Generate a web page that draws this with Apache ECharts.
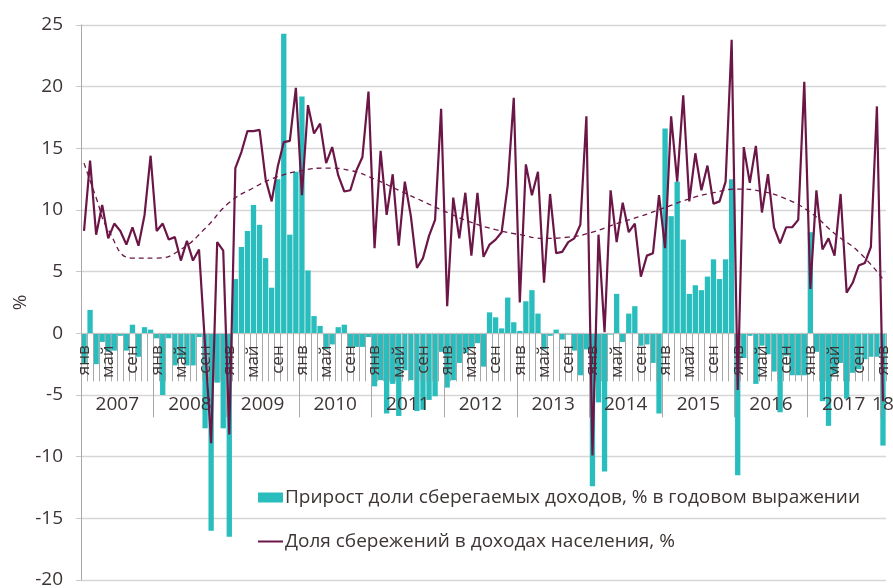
<!DOCTYPE html>
<html><head><meta charset="utf-8">
<script src="https://cdn.jsdelivr.net/npm/echarts@6/dist/echarts.min.js"></script>
<style>html,body{margin:0;padding:0;background:#fff}#c{width:893px;height:588px}</style>
</head><body><div id="c"></div>
<script>
// ---- data ----
const monthNames = ['янв','фев','мар','апр','май','июн','июл','авг','сен','окт','ноя','дек'];
const years = [2007,2008,2009,2010,2011,2012,2013,2014,2015,2016,2017,2018];
const yearLabels = ['2007','2008','2009','2010','2011','2012','2013','2014','2015','2016','2017','18'];
const yearBoundaries = [12,24,36,48,60,72,84,96,108,120,132];
const yearLabelPositions = [6,18,30,42,54,66,78,90,102,114,126,132.5];

const barName = 'Прирост доли сберегаемых доходов, % в годовом выражении';
const lineName = 'Доля сбережений в доходах населения, %';

// growth of share of saved income, % yoy (bars)
const growth = [
  -2.4, 1.9, -2.5, -0.7, -1.5, -1.4, -0.2, -1.4, 0.7, -1.9, 0.5, 0.3,
  -0.4, -5.0, -0.4, -2.6, -2.0, -2.6, -2.6, -0.3, -7.7, -16.0, -4.0, -7.7,
  -16.5, 4.4, 7.0, 8.3, 10.4, 8.8, 6.1, 3.7, 12.5, 24.3, 8.0, 13.1,
  19.2, 5.1, 1.4, 0.6, -1.3, -0.9, 0.5, 0.7, -1.1, -1.1, -1.1, -0.3,
  -4.3, -3.8, -6.5, -4.1, -6.7, -3.0, -3.8, -6.3, -6.2, -5.4, -5.1, -1.5,
  -4.4, -3.8, -2.4, -1.6, -1.2, -0.8, -2.7, 1.7, 1.3, 0.4, 2.9, 0.9,
  0.2, 2.6, 3.5, 1.6, -1.3, -0.2, 0.3, -0.5, -0.1, -1.4, -3.4, -1.3,
  -12.4, -5.6, -11.2, -0.1, 3.2, -0.7, 1.6, 2.2, -1.0, -0.9, -2.4, -6.5,
  16.6, 9.5, 12.3, 7.6, 3.2, 3.9, 3.5, 4.6, 6.0, 4.4, 6.0, 12.5,
  -11.5, -2.0, -0.2, -4.1, -1.0, -1.7, -3.1, -6.4, -1.8, -3.4, -3.4, -3.4,
  8.2, -1.5, -5.5, -7.5, -3.3, -2.4, -5.3, -3.2, -2.9, -2.1, -1.9, -1.9,
  -9.1
];

// share of savings in household income, % (line)
const share = [
  8.3, 14.0, 8.0, 10.4, 7.7, 8.9, 8.3, 7.2, 8.6, 7.1, 9.6, 14.4,
  8.3, 8.9, 7.6, 7.8, 5.9, 7.5, 5.9, 6.8, -1.0, -8.9, 7.4, 6.7,
  -8.2, 13.4, 14.7, 16.4, 16.4, 16.5, 12.5, 10.7, 13.5, 15.5, 15.6, 19.9,
  11.2, 18.5, 16.2, 17.0, 13.8, 15.1, 12.8, 11.5, 11.6, 13.2, 14.3, 19.6,
  6.9, 14.8, 9.6, 12.9, 7.1, 12.3, 9.5, 5.3, 6.1, 7.9, 9.2, 18.2,
  2.2, 11.0, 7.7, 11.4, 6.3, 11.4, 6.2, 7.2, 7.6, 8.2, 12.0, 19.1,
  2.5, 13.7, 11.2, 13.1, 4.1, 11.3, 6.5, 6.6, 7.4, 7.7, 8.8, 17.6,
  -9.9, 8.0, 0.1, 11.6, 7.4, 10.6, 8.2, 8.9, 4.6, 6.3, 6.5, 11.2,
  6.9, 17.6, 12.3, 19.3, 10.7, 14.6, 11.6, 13.6, 10.5, 10.7, 12.3, 23.8,
  -4.6, 15.1, 12.2, 15.2, 9.8, 12.9, 8.6, 7.3, 8.6, 8.6, 9.2, 20.4,
  3.6, 11.6, 6.8, 7.7, 6.3, 11.3, 3.3, 4.1, 5.5, 5.7, 7.0, 18.4,
  -5.5
];

// trend line (dashed), read at selected months (month index from Jan 2007)
const trendMonth = [0,2,4,8,12,16,20,24,28,32,36,40,44,48,52,56,60,64,68,72,76,80,84,88,92,96,100,104,108,112,116,120,124,128,132];
const trendValue = [13.8,11.0,8.4,6.1,6.1,6.8,8.5,10.6,11.8,12.7,13.2,13.4,13.2,12.5,11.6,10.7,9.8,9.0,8.4,8.0,7.7,7.8,8.2,8.9,9.5,10.2,10.9,11.4,11.7,11.5,10.9,9.8,8.1,6.6,4.4];

// ---- build ----
const categories = [];
years.forEach(y => monthNames.forEach(m => { if (categories.length < growth.length) categories.push(m + ' ' + y); }));
const trendData = trendMonth.map((m, i) => [m, trendValue[i]]);

const font = '"Open Sans", "DejaVu Sans", sans-serif';
const txt = '#3d3434';
const tealC = '#2abdbd';
const lineC = '#6b1646';
const axisGrey = '#a8a8a8';

const H = 588, gridTop = 25, gridBottomPx = 580, yMin = -20, yMax = 25;
const zeroPx = gridBottomPx - (0 - yMin) / (yMax - yMin) * (gridBottomPx - gridTop);

const chart = echarts.init(document.getElementById('c'));
chart.setOption({
  animation: false,
  textStyle: {fontFamily: font},
  grid: [
    {left: 81, right: 7, top: gridTop, bottom: H - gridBottomPx, containLabel: false, outerBoundsMode: 'none'},
    {left: 81, right: 7, top: gridTop, bottom: H - zeroPx, containLabel: false, outerBoundsMode: 'none'}
  ],
  legend: {
    orient: 'vertical', left: 257, top: 488, padding: 0,
    itemWidth: 25, itemHeight: 10, itemGap: 25,
    textStyle: {fontFamily: font, fontSize: 19, color: txt, padding: [0, 0, 0, -3]},
    data: [{name: barName, icon: 'rect'}, {name: lineName, itemStyle: {opacity: 0}}]
  },
  xAxis: [
    {type: 'category', data: categories, gridIndex: 0, show: false, boundaryGap: true},
    {
      type: 'category', data: categories, gridIndex: 1, boundaryGap: true, z: 5, position: 'bottom',
      axisLine: {onZero: false, lineStyle: {color: '#c8c8c8'}},
      axisTick: {show: true, interval: 0, length: 48, lineStyle: {color: axisGrey}},
      axisLabel: {interval: 3, rotate: 90, margin: 12, fontSize: 17, color: txt, fontFamily: font,
                  formatter: v => v.split(' ')[0]},
      splitLine: {show: false}
    },
    {
      type: 'value', min: 0, max: 133, gridIndex: 1, position: 'bottom', z: 5,
      axisLine: {show: false, onZero: false},
      axisTick: {show: true, customValues: yearBoundaries, length: 84, lineStyle: {color: axisGrey}},
      axisLabel: {customValues: yearLabelPositions, margin: 62, fontSize: 19, color: txt, fontFamily: font,
                  formatter: v => yearLabels[yearLabelPositions.indexOf(v)]},
      splitLine: {show: false}
    }
  ],
  yAxis: [
    {
      type: 'value', min: yMin, max: yMax, interval: 5, gridIndex: 0,
      name: '%', nameLocation: 'middle', nameGap: 51, nameRotate: 90, nameMoveOverlap: false,
      nameTextStyle: {fontSize: 19, color: txt, fontFamily: font},
      axisLine: {show: true, lineStyle: {color: axisGrey}},
      axisTick: {show: true, length: 5, lineStyle: {color: '#c8c8c8'}},
      axisLabel: {margin: 18, fontSize: 19, color: txt, fontFamily: font},
      splitLine: {lineStyle: {color: '#d6d6d6', width: 1.3}}
    },
    {type: 'value', gridIndex: 1, min: 0, max: 1, show: false}
  ],
  series: [
    {name: barName, type: 'bar', data: growth, barCategoryGap: '12%', xAxisIndex: 0, yAxisIndex: 0,
     itemStyle: {color: tealC}, z: 2},
    {name: lineName, type: 'line', data: share, symbol: 'none', xAxisIndex: 0, yAxisIndex: 0,
     lineStyle: {color: lineC, width: 2.2}, itemStyle: {color: lineC}, z: 10},
    {name: 'trend', type: 'line', data: trendData, symbol: 'none', smooth: 0.5, xAxisIndex: 0, yAxisIndex: 0,
     lineStyle: {color: lineC, width: 1.3, type: [5, 4]}, z: 9, silent: true}
  ]
});
</script>
</body></html>
